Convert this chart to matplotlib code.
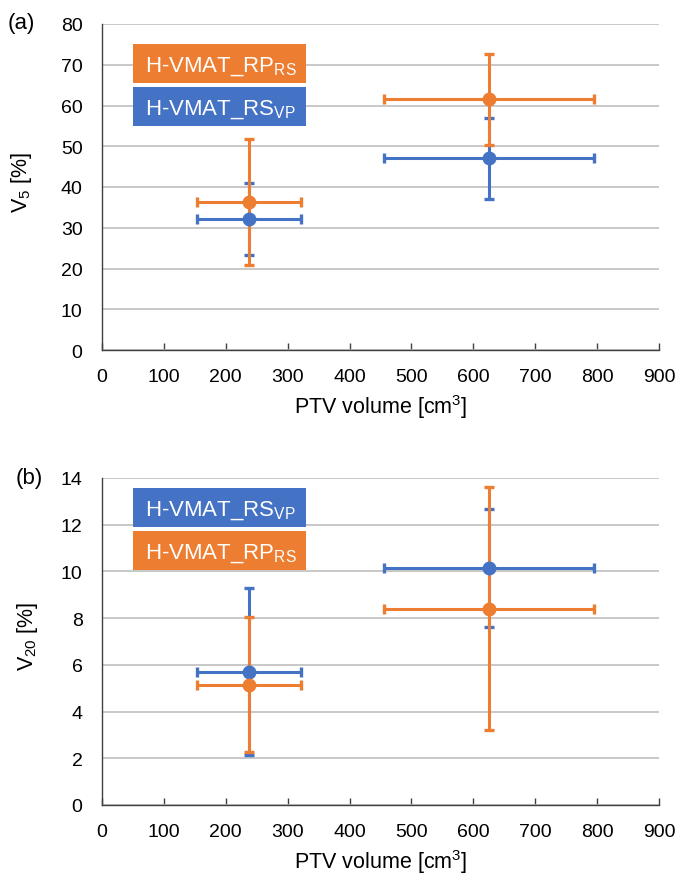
import numpy as np
import matplotlib
matplotlib.use('Agg')
import matplotlib.pyplot as plt
import matplotlib.patches as mpatches

plt.rcParams['font.family'] = ['Liberation Sans', 'DejaVu Sans']
plt.rcParams['mathtext.fontset'] = 'custom'
plt.rcParams['mathtext.rm'] = 'Liberation Sans'
plt.rcParams['mathtext.it'] = 'Liberation Sans:italic'

# data
ptv = [237, 625]
ptv_sd = [84, 170]

v5_rp = [36.3, 61.5]
v5_rp_sd = [15.4, 11.1]
v5_rs = [32.1, 47.0]
v5_rs_sd = [8.9, 10.0]

v20_rs = [5.7, 10.15]
v20_rs_sd = [3.57, 2.52]
v20_rp = [5.15, 8.4]
v20_rp_sd = [2.9, 5.2]

xticks = np.arange(0, 1000, 100)
orange = '#ED7D31'
blue = '#4472C4'

W, H = 680, 878
fig = plt.figure(figsize=(W / 100, H / 100), dpi=100)


def px(x0, y0, x1, y1):
    # pixel box (top-left origin) -> figure fraction [l, b, w, h]
    return [x0 / W, 1 - y1 / H, (x1 - x0) / W, (y1 - y0) / H]


def style(ax, ymax, ystep):
    ax.set_xlim(0, 900)
    ax.set_ylim(0, ymax)
    ax.set_xticks(xticks)
    ax.set_yticks(np.arange(0, ymax + ystep / 2, ystep))
    ax.grid(axis='y', color='#BFBFBF', lw=1.2)
    ax.set_axisbelow(True)
    for s in ['top', 'right']:
        ax.spines[s].set_visible(False)
    for s in ['left', 'bottom']:
        ax.spines[s].set_color('#404040')
        ax.spines[s].set_linewidth(1.0)
    ax.tick_params(axis='x', direction='in', length=5, width=1, color='#404040',
                   pad=13, labelsize=14)
    ax.tick_params(axis='y', length=0, pad=14, labelsize=14)
    ax.set_xlabel('PTV volume [cm$^3$]', fontsize=15.5, labelpad=5)


def series(ax, y, ysd, color):
    ax.errorbar(ptv, y, xerr=ptv_sd, yerr=ysd, fmt='o', color=color, ms=9,
                elinewidth=2.2, capsize=3.5, capthick=2.4, zorder=3)


def tag(box, color, label):
    l, b, w, h = px(*box)
    fig.patches.append(mpatches.Rectangle((l, b), w, h, transform=fig.transFigure,
                                          facecolor=color, edgecolor='none'))
    fig.text((box[0] + 12) / W, 1 - (box[3] - 12) / H, label, color='white',
             fontsize=16, va='baseline', ha='left')


lab_rp = 'H-VMAT_RP$_{\\mathrm{RS}}$'
lab_rs = 'H-VMAT_RS$_{\\mathrm{VP}}$'

# (a) V5
ax1 = fig.add_axes(px(102, 25, 659, 351))
style(ax1, 80, 10)
series(ax1, v5_rs, v5_rs_sd, blue)
series(ax1, v5_rp, v5_rp_sd, orange)
fig.text(22 / W, 1 - 182 / H, 'V$_5$ [%]', fontsize=15.5, rotation=90,
         ha='center', va='center')
fig.text(8 / W, 1 - 23 / H, '(a)', fontsize=16, va='center')
tag((133, 45, 306, 84), orange, lab_rp)
tag((133, 88, 306, 127), blue, lab_rs)

# (b) V20
ax2 = fig.add_axes(px(102, 479, 659, 806))
style(ax2, 14, 2)
series(ax2, v20_rs, v20_rs_sd, blue)
series(ax2, v20_rp, v20_rp_sd, orange)
fig.text(28 / W, 1 - 636 / H, 'V$_{20}$ [%]', fontsize=15.5, rotation=90,
         ha='center', va='center')
fig.text(16 / W, 1 - 479 / H, '(b)', fontsize=16, va='center')
tag((133, 489, 306, 528), blue, lab_rs)
tag((133, 532, 306, 571), orange, lab_rp)

fig.savefig('out.png', dpi=100)
